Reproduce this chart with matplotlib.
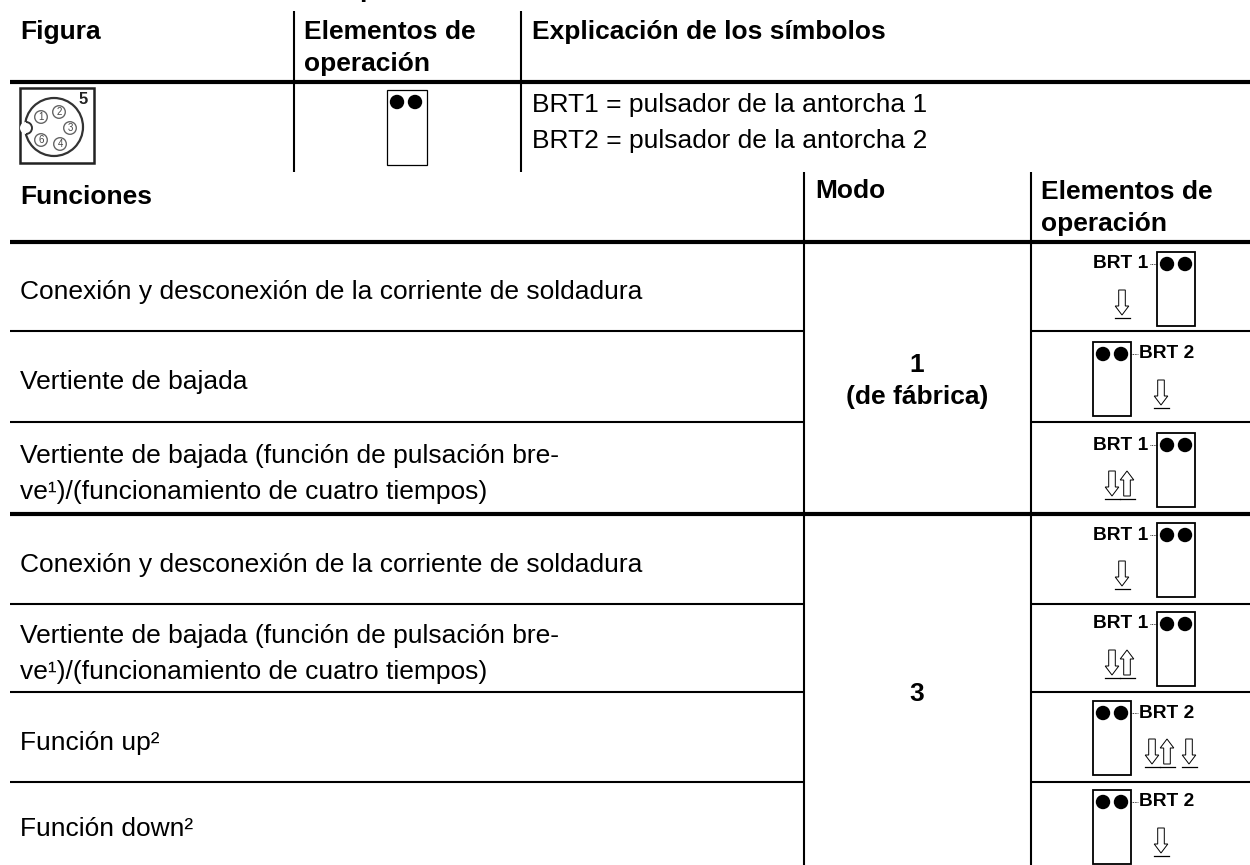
import matplotlib
matplotlib.use("Agg")
import matplotlib.pyplot as plt
from matplotlib.patches import Rectangle, Circle, Polygon, Arc

plt.rcParams["font.family"] = ["Liberation Sans", "DejaVu Sans"]

# top table
top_headers = ["Figura", "Elementos de\noperación", "Explicación de los símbolos"]
symbol_notes = ["BRT1 = pulsador de la antorcha 1", "BRT2 = pulsador de la antorcha 2"]
pin_labels = ["1", "2", "3", "4", "6"]

# bottom table
bottom_headers = ["Funciones", "Modo", "Elementos de\noperación"]
functions = [
    "Conexión y desconexión de la corriente de soldadura",
    "Vertiente de bajada",
    "Vertiente de bajada (función de pulsación bre-\nve¹)/(funcionamiento de cuatro tiempos)",
    "Conexión y desconexión de la corriente de soldadura",
    "Vertiente de bajada (función de pulsación bre-\nve¹)/(funcionamiento de cuatro tiempos)",
    "Función up²",
    "Función down²",
]
modes = ["1\n(de fábrica)", "3"]
buttons = ["BRT 1", "BRT 2", "BRT 1", "BRT 1", "BRT 1", "BRT 2", "BRT 2"]
arrows = ["d", "d", "du", "d", "du", "du d", "d"]

row_edges = [242, 331, 422, 514, 604, 692, 782, 872]
box_offsets = [10, 11, 11, 9, 8, 9, 8]
mode_centers = [381, 694]

FS = 19
fig = plt.figure(figsize=(12.5, 8.65), dpi=100)
ax = fig.add_axes([0, 0, 1, 1])
ax.set_xlim(0, 1250)
ax.set_ylim(865, 0)
ax.axis("off")


def hline(y, lw=2.0, x0=10, x1=1250):
    ax.plot([x0, x1], [y, y], color="black", lw=lw, solid_capstyle="butt")


def vline(x, y0, y1, lw=1.5):
    ax.plot([x, x], [y0, y1], color="black", lw=lw, solid_capstyle="butt")


def arrow(x, top, down=True):
    # hollow arrow with the base bar underneath
    w, head = 3.3, 6.8
    tip = top + 25
    if down:
        pts = [(x-w, top), (x+w, top), (x+w, top+16), (x+head, top+16),
               (x, tip), (x-head, top+16), (x-w, top+16)]
    else:
        pts = [(x-w, tip), (x+w, tip), (x+w, top+9), (x+head, top+9),
               (x, top), (x-head, top+9), (x-w, top+9)]
    ax.add_patch(Polygon(pts, closed=True, fc="white", ec="black", lw=0.7))
    ax.plot([x-7.5, x+7.5], [top+27.5, top+27.5], color="black", lw=0.9)


def button_box(x0, y0, w=38, h=74, lw=1.3):
    ax.add_patch(Rectangle((x0, y0), w, h, fc="white", ec="black", lw=lw))
    for cx in (x0+10, x0+28):
        ax.add_patch(Circle((cx, y0+12), 7.2, fc="black", ec="none"))


def draw_operator(i):
    y0 = row_edges[i] + box_offsets[i]
    label = buttons[i]
    if label == "BRT 1":
        bx = 1157
        ax.text(1148, y0+12, label, fontsize=13.8, fontweight="bold", ha="right", va="center")
        ax.plot([1150, bx], [y0+12, y0+12], color="black", lw=0.6, ls=(0, (1, 1)))
        x = 1122 if arrows[i] == "d" else 1112
    else:
        bx = 1093
        ax.text(1139, y0+12, label, fontsize=13.8, fontweight="bold", ha="left", va="center")
        ax.plot([bx+38, 1138], [y0+12, y0+12], color="black", lw=0.6, ls=(0, (1, 1)))
        x = 1161 if arrows[i] == "d" else 1152
    button_box(bx, y0)
    for s in arrows[i]:
        if s == " ":
            x += 7
            continue
        arrow(x, y0+38, down=s == "d")
        x += 15


# cut off line of text at the very top
ax.text(367, 2, "p", fontsize=FS, fontweight="bold", ha="center", va="bottom")

# top table
vline(294, 11, 172)
vline(521, 11, 172)
hline(82, lw=3.0)
ax.text(20, 32, top_headers[0], fontsize=FS, fontweight="bold", va="center")
ax.text(304, 48, top_headers[1], fontsize=FS, fontweight="bold", va="center", linespacing=1.39)
ax.text(532, 32, top_headers[2], fontsize=FS, fontweight="bold", va="center")
ax.text(532, 123, "\n".join(symbol_notes), fontsize=FS, va="center", linespacing=1.64)

# connector picture
ax.add_patch(Rectangle((20, 88), 74, 75, fc="white", ec="#222222", lw=1.8))
ax.add_patch(Circle((54, 127), 29, fc="white", ec="#333333", lw=1.6))
ax.add_patch(Circle((26, 128), 6, fc="white", ec="none", zorder=3))
ax.add_patch(Arc((26, 128), 12, 12, theta1=-90, theta2=90, ec="#333333", lw=1.4, zorder=4))
pin_xy = [(41, 117), (59, 112), (70, 128), (60, 144), (41, 140)]
for (px, py), lab in zip(pin_xy, pin_labels):
    ax.add_patch(Circle((px, py), 6.3, fc="white", ec="#666666", lw=1))
    ax.text(px, py, lab, fontsize=7, ha="center", va="center", color="#444444")
ax.text(83, 100, "5", fontsize=12, fontweight="bold", ha="center", va="center", color="#222222")
button_box(387, 90, w=40, h=75, lw=0.9)

# bottom table
vline(804, 172, 865)
vline(1031, 172, 865)
ax.text(20, 197, bottom_headers[0], fontsize=FS, fontweight="bold", va="center")
ax.text(815, 191, bottom_headers[1], fontsize=FS, fontweight="bold", va="center")
ax.text(1041, 208, bottom_headers[2], fontsize=FS, fontweight="bold", va="center", linespacing=1.39)

for i, y in enumerate(row_edges[:-1]):
    if i == 0 or i == 3:
        hline(y, lw=3.0)
    else:
        hline(y, lw=1.5, x1=804)
        hline(y, lw=1.5, x0=1031)
    mid = (y + min(row_edges[i+1], 865)) / 2
    ax.text(20, mid+6, functions[i], fontsize=FS, va="center", linespacing=1.66)
    draw_operator(i)

for m, yc in zip(modes, mode_centers):
    ax.text(917, yc, m, fontsize=FS, fontweight="bold", ha="center", va="center", linespacing=1.45)

fig.savefig("out.png", dpi=100)
